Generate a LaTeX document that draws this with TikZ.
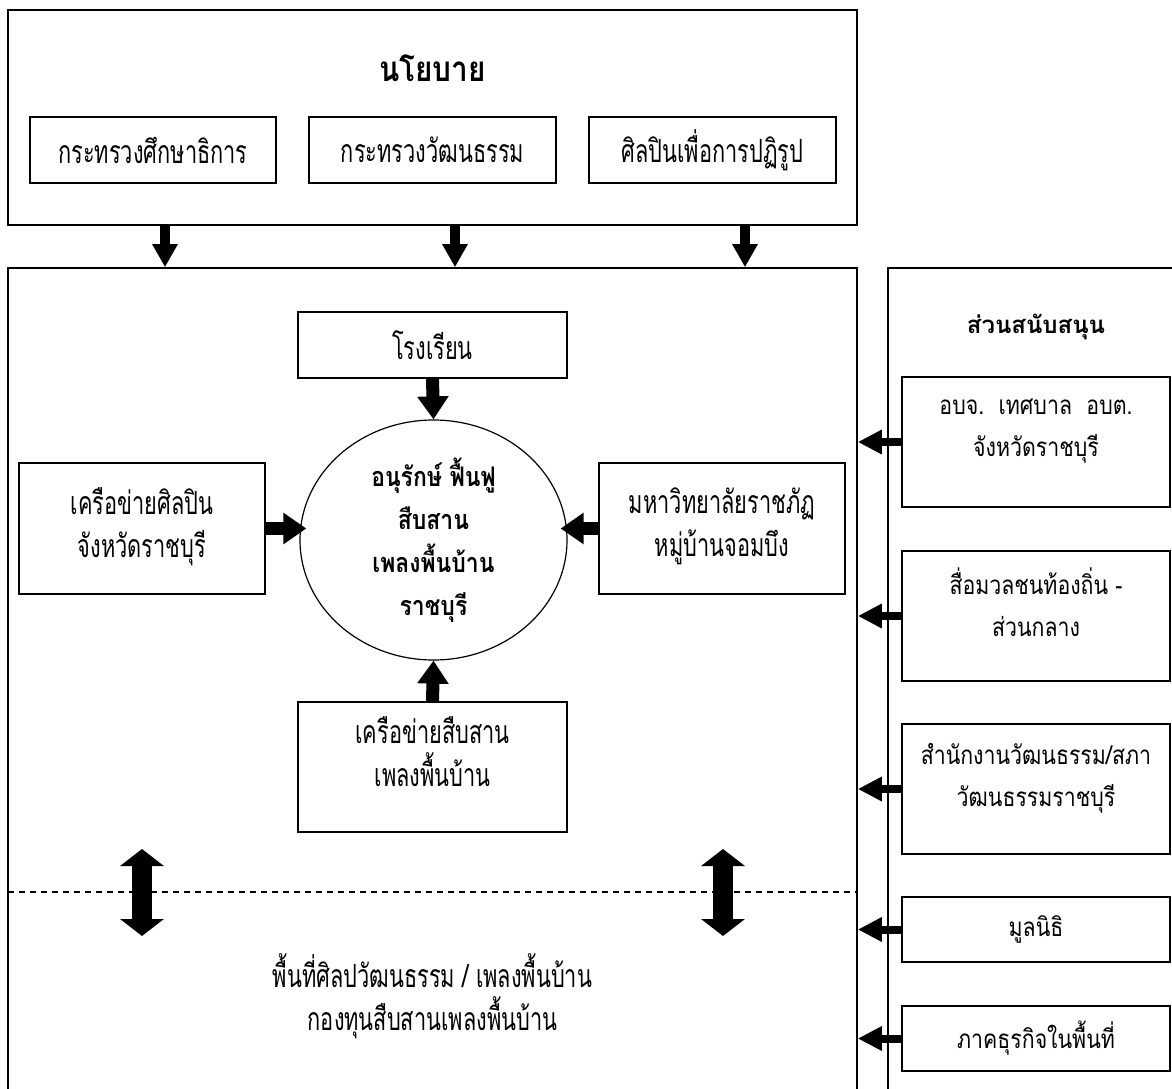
\documentclass[tikz,border=0pt]{standalone}
\usepackage{fontspec}
\newfontfamily\thaiN[Script=Thai,FakeStretch=0.68]{Loma}
\newfontfamily\thaiB[Script=Thai,FakeStretch=0.85]{Loma}
\newfontfamily\thaiR[Script=Thai,FakeStretch=0.82]{Loma}
\newfontfamily\thaiRB[Script=Thai]{Loma}
\usetikzlibrary{arrows.meta,shapes.geometric}
\begin{document}
\begin{tikzpicture}[x=1pt,y=-1pt,
  box/.style={draw,line width=1.6pt,inner sep=0pt,align=center},
  nf/.style={font=\thaiN\fontsize{32}{43}\selectfont},
  rf/.style={font=\thaiR\fontsize{26}{42}\selectfont},
  arrtop/.style={line width=10pt,-{Triangle[length=23pt,width=24pt]}},
  arrin/.style={line width=13pt,-{Triangle[length=23pt,width=30pt]}},
  arrside/.style={line width=8pt,-{Triangle[length=24pt,width=23pt]}},
  arrdbl/.style={line width=20pt,{Triangle[length=17pt,width=43pt]}-{Triangle[length=17pt,width=43pt]}}
]
\useasboundingbox (0,0) rectangle (1172,1089);
\clip (0,0) rectangle (1172,1089);
% policy block
\node[box,minimum width=849pt,minimum height=215pt] (top) at (432.5,117.5) {};
\node[font=\thaiB\bfseries\fontsize{35}{40}\selectfont] (policy) at (432.5,68) {นโยบาย};
\node[box,nf,minimum width=246pt,minimum height=66pt] (m1) at (153,150) {กระทรวงศึกษาธิการ};
\node[box,nf,minimum width=247pt,minimum height=66pt] (m2) at (432.5,150) {กระทรวงวัฒนธรรม};
\node[box,nf,minimum width=247pt,minimum height=66pt] (m3) at (712.5,150) {ศิลปินเพื่อการปฏิรูป};
% main block
\node[box,minimum width=849pt,minimum height=840pt] (main) at (432.5,688) {};
\node[box,minimum width=300pt,minimum height=840pt] (side) at (1038,688) {};
\coordinate (c1) at (165,0);
\coordinate (c2) at (455,0);
\coordinate (c3) at (745,0);
\draw[arrtop] (top.south -| c1) -- (main.north -| c1);
\draw[arrtop] (top.south -| c2) -- (main.north -| c2);
\draw[arrtop] (top.south -| c3) -- (main.north -| c3);
% centre
\node[box,nf,minimum width=269pt,minimum height=66pt] (school) at (432.5,345) {โรงเรียน};
\node[draw,ellipse,line width=1.2pt,inner sep=0pt,minimum width=267pt,minimum height=240pt,font=\thaiB\bfseries\fontsize{27}{43}\selectfont,align=center] (core) at (433.5,540) {อนุรักษ์ ฟื้นฟู\\สืบสาน\\เพลงพื้นบ้าน\\ราชบุรี};
\node[box,nf,minimum width=246pt,minimum height=131pt,text depth=12pt] (lbox) at (142,528.5) {เครือข่ายศิลปิน\\จังหวัดราชบุรี};
\node[box,nf,minimum width=246pt,minimum height=131pt,text depth=12pt] (rbox) at (722,528.5) {มหาวิทยาลัยราชภัฏ\\หมู่บ้านจอมบึง};
\node[box,nf,minimum width=269pt,minimum height=130pt,text depth=30pt] (bbox) at (432.5,767) {เครือข่ายสืบสาน\\เพลงพื้นบ้าน};
\draw[arrin] (school.south) -- (core.north);
\draw[arrin] (bbox.north) -- (core.south);
\draw[arrin] (lbox.east) -- ([xshift=7pt]lbox.east -| core.west);
\draw[arrin] (rbox.west) -- ([xshift=-7pt]rbox.west -| core.east);
% dashed divider and double arrows
\coordinate (dl) at (8,892);
\coordinate (dr) at (857,892);
\draw[line width=1.6pt,dash pattern=on 6pt off 5pt] (dl) -- (dr);
\coordinate (da1) at (142,849);
\coordinate (db1) at (142,936);
\coordinate (da2) at (723,849);
\coordinate (db2) at (723,936);
\draw[arrdbl] (da1) -- (db1);
\draw[arrdbl] (da2) -- (db2);
\node[nf,align=center] (area) at (432.5,996) {พื้นที่ศิลปวัฒนธรรม / เพลงพื้นบ้าน\\กองทุนสืบสานเพลงพื้นบ้าน};
% support
\node[font=\thaiRB\bfseries\fontsize{24}{30}\selectfont] (suptitle) at (1036,327) {ส่วนสนับสนุน};
\node[box,rf,minimum width=268pt,minimum height=130pt,text depth=28pt] (sA) at (1036,442) {อบจ.\ \ เทศบาล\ \ อบต.\\จังหวัดราชบุรี};
\node[box,rf,minimum width=268pt,minimum height=130pt,text depth=28pt] (sB) at (1036,616) {สื่อมวลชนท้องถิ่น -\\ส่วนกลาง};
\node[box,rf,minimum width=268pt,minimum height=130pt,text depth=28pt] (sC) at (1036,789) {สำนักงานวัฒนธรรม/สภา\\วัฒนธรรมราชบุรี};
\node[box,rf,minimum width=268pt,minimum height=65pt] (sD) at (1036,929.5) {มูลนิธิ};
\node[box,rf,minimum width=268pt,minimum height=65pt] (sE) at (1036,1038.5) {ภาคธุรกิจในพื้นที่};
\draw[arrside] (sA.west) -- (main.east |- sA.west);
\draw[arrside] (sB.west) -- (main.east |- sB.west);
\draw[arrside] (sC.west) -- (main.east |- sC.west);
\draw[arrside] (sD.west) -- (main.east |- sD.west);
\draw[arrside] (sE.west) -- (main.east |- sE.west);
\end{tikzpicture}
\end{document}
